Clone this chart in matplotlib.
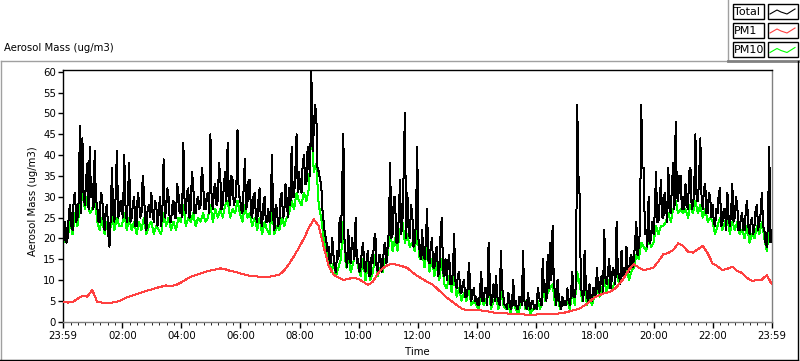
import matplotlib
matplotlib.use("Agg")
import matplotlib.pyplot as plt
from matplotlib.lines import Line2D
from matplotlib.patches import Rectangle
import numpy as np

# ---- data -----------------------------------------------------------------
# Total: 2.5-minute samples, 23:59 (previous day) .. 23:59, one row per hour
TOTAL = [
    17, 21, 24, 19, 20, 26, 28, 23, 22, 30, 31, 24, 25, 29, 47, 26, 44, 30, 28, 34, 38, 27, 42, 30,
    33, 27, 41, 29, 28, 24, 24, 31, 30, 25, 22, 27, 28, 21, 18, 25, 37, 26, 24, 30, 41, 25, 26, 29,
    27, 25, 40, 28, 24, 30, 38, 24, 25, 28, 30, 23, 23, 31, 29, 25, 26, 35, 31, 24, 22, 27, 28, 25,
    31, 26, 24, 29, 28, 23, 26, 30, 23, 27, 39, 25, 27, 32, 30, 24, 24, 28, 29, 25, 25, 33, 31, 26,
    28, 25, 43, 29, 26, 31, 32, 25, 27, 36, 33, 26, 26, 29, 30, 27, 28, 37, 34, 27, 27, 30, 31, 26,
    45, 29, 27, 32, 33, 28, 29, 38, 35, 27, 28, 33, 36, 29, 43, 30, 28, 35, 34, 28, 29, 31, 46, 30,
    30, 27, 26, 32, 39, 27, 28, 34, 34, 26, 25, 30, 31, 25, 24, 29, 32, 24, 23, 28, 30, 24, 24, 27,
    24, 27, 40, 25, 22, 28, 27, 23, 24, 30, 31, 25, 26, 33, 29, 25, 32, 28, 42, 30, 30, 36, 45, 31,
    36, 32, 31, 38, 40, 33, 33, 42, 38, 35, 60, 41, 46, 52, 50, 37, 36, 34, 33, 27, 24, 21, 20, 17,
    18, 14, 14, 20, 16, 13, 12, 17, 15, 25, 19, 32, 45, 18, 16, 13, 22, 15, 14, 20, 18, 15, 25, 14,
    15, 12, 13, 17, 19, 13, 12, 15, 17, 11, 11, 16, 14, 20, 21, 13, 12, 16, 16, 12, 13, 18, 19, 14,
    18, 22, 38, 20, 21, 30, 30, 19, 19, 25, 34, 21, 24, 36, 50, 20, 31, 22, 20, 28, 26, 18, 19, 24,
    42, 20, 17, 15, 22, 16, 15, 19, 27, 15, 14, 18, 20, 13, 13, 17, 18, 11, 12, 21, 25, 12, 11, 15,
    10, 14, 16, 9, 9, 12, 21, 10, 8, 11, 12, 7, 7, 9, 10, 6, 6, 8, 14, 9, 5, 7, 8, 5,
    6, 4, 4, 7, 12, 5, 5, 8, 8, 4, 19, 9, 4, 6, 9, 5, 11, 6, 5, 4, 17, 8, 6, 4,
    4, 3, 7, 5, 3, 4, 10, 4, 5, 3, 3, 6, 6, 4, 17, 5, 4, 3, 7, 4, 3, 5, 5, 3,
    4, 3, 8, 6, 5, 4, 15, 7, 9, 5, 16, 8, 19, 10, 23, 9, 7, 4, 10, 6, 4, 3, 6, 4,
    5, 4, 8, 5, 4, 7, 12, 6, 6, 9, 52, 35, 30, 8, 7, 5, 17, 9, 6, 5, 9, 6, 5, 8,
    8, 6, 13, 8, 7, 10, 11, 7, 22, 10, 9, 12, 15, 8, 10, 13, 12, 9, 24, 12, 11, 9, 17, 11,
    13, 11, 18, 12, 12, 15, 16, 13, 15, 19, 24, 16, 18, 22, 52, 37, 37, 21, 22, 18, 30, 19, 20, 24,
    21, 26, 36, 24, 24, 29, 34, 25, 25, 31, 28, 24, 37, 27, 26, 33, 38, 27, 48, 30, 29, 35, 35, 27,
    30, 27, 33, 28, 27, 36, 37, 27, 28, 31, 45, 29, 29, 34, 44, 30, 27, 32, 33, 26, 26, 31, 30, 25,
    28, 24, 23, 27, 26, 31, 32, 23, 24, 27, 27, 22, 31, 25, 23, 26, 33, 24, 25, 30, 28, 22, 22, 25,
    26, 22, 22, 27, 29, 23, 21, 24, 25, 21, 23, 27, 28, 22, 24, 26, 31, 23, 22, 19, 18, 24, 42, 19,
    22,
]
# PM10: 5-minute samples, 23:59 .. 23:59
PM10 = [
    18, 21, 20, 24, 21, 26, 23, 28, 31, 27, 30, 26,
    27, 30, 24, 22, 25, 21, 24, 20, 26, 22, 25, 23,
    23, 26, 22, 25, 22, 24, 21, 24, 22, 25, 21, 23,
    24, 21, 23, 22, 21, 26, 23, 25, 22, 24, 22, 25,
    24, 28, 23, 25, 24, 26, 23, 25, 24, 26, 24, 25,
    28, 24, 27, 25, 27, 25, 28, 29, 25, 27, 26, 29,
    26, 24, 28, 25, 26, 23, 25, 22, 25, 21, 24, 22,
    21, 27, 21, 23, 22, 25, 23, 25, 26, 29, 27, 31,
    29, 28, 31, 29, 32, 46, 36, 38, 28, 25, 20, 17,
    15, 12, 14, 11, 13, 15, 24, 13, 16, 12, 14, 18,
    13, 11, 15, 10, 14, 10, 12, 16, 11, 13, 12, 15,
    16, 22, 17, 20, 17, 22, 24, 19, 21, 18, 19, 17,
    22, 15, 17, 13, 18, 12, 15, 11, 14, 10, 15, 9,
    8, 11, 7, 12, 6, 8, 5, 7, 5, 8, 4, 5,
    4, 3, 7, 4, 5, 8, 3, 5, 6, 3, 8, 4,
    3, 4, 2, 6, 3, 2, 4, 8, 3, 4, 2, 3,
    3, 5, 3, 8, 5, 7, 8, 9, 4, 6, 3, 4,
    4, 5, 3, 7, 4, 12, 9, 5, 8, 4, 6, 4,
    6, 8, 6, 8, 10, 7, 10, 8, 9, 12, 9, 11,
    11, 13, 10, 12, 13, 16, 15, 19, 18, 17, 20, 18,
    19, 23, 21, 23, 23, 24, 26, 24, 27, 29, 26, 27,
    26, 27, 25, 28, 26, 29, 26, 28, 25, 27, 24, 25,
    24, 21, 23, 25, 22, 24, 25, 21, 24, 22, 24, 21,
    22, 20, 23, 19, 21, 20, 23, 21, 24, 20, 17, 22,
    20,
]
# PM1: 10-minute samples, 23:59 .. 23:59
PM1 = [
    4.8, 4.6, 4.7, 5.5, 6.2, 6.0, 7.6, 4.8, 4.6, 4.5, 4.6, 4.8,
    5.2, 5.8, 6.2, 6.6, 7.0, 7.4, 7.7, 8.1, 8.4, 8.7, 8.6, 8.8,
    9.4, 10.1, 10.8, 11.2, 11.6, 12.0, 12.3, 12.5, 12.8, 12.6, 12.2, 12.0,
    11.6, 11.3, 11.0, 10.9, 10.8, 10.7, 10.8, 11.0, 11.3, 12.3, 13.9, 15.8,
    17.8, 20.0, 22.5, 24.6, 23.0, 18.0, 13.5, 11.3, 10.6, 10.0, 10.3, 10.5,
    10.3, 9.6, 8.8, 9.6, 11.6, 12.8, 13.6, 13.9, 13.6, 13.3, 12.9, 11.9,
    11.0, 10.3, 9.6, 9.0, 8.0, 6.9, 5.8, 4.9, 4.0, 3.2, 2.8, 2.7,
    2.7, 2.7, 2.6, 2.3, 2.1, 2.1, 2.0, 1.9, 1.9, 1.8, 1.7, 1.7,
    1.7, 1.8, 1.8, 1.8, 1.9, 2.0, 2.2, 2.5, 2.8, 3.2, 3.9, 4.8,
    5.8, 6.4, 6.8, 7.1, 7.8, 9.0, 10.5, 12.5, 13.8, 13.0, 12.4, 12.6,
    13.0, 14.5, 16.2, 16.5, 17.2, 18.8, 18.2, 16.8, 16.6, 17.4, 18.2, 16.4,
    14.0, 13.3, 12.4, 12.7, 13.2, 12.2, 11.7, 10.5, 9.8, 10.0, 10.1, 11.2,
    9.0,
]
TICK_HOURS = [-1 / 60, 2, 4, 6, 8, 10, 12, 14, 16, 18, 20, 22, 23 + 59 / 60]
TICK_LABELS = ["23:59", "02:00", "04:00", "06:00", "08:00", "10:00", "12:00",
               "14:00", "16:00", "18:00", "20:00", "22:00", "23:59"]
SERIES = ["Total", "PM1", "PM10"]
COLORS = {"Total": "#000000", "PM1": "#ff4040", "PM10": "#00ff00"}

t_tot = -1 / 60 + np.arange(len(TOTAL)) * 2.5 / 60
t_pm10 = -1 / 60 + np.arange(len(PM10)) * 5 / 60
t_pm1 = -1 / 60 + np.arange(len(PM1)) * 10 / 60

W, H = 800, 361
plt.rcParams["font.family"] = ["DejaVu Sans"]
fig = plt.figure(figsize=(W / 100, H / 100), dpi=100)


def fx(x): return x / W
def fy(y): return 1 - y / H


ax = fig.add_axes([fx(62.7), fy(321.7), fx(771.7) - fx(62.7), fy(70.5) - fy(321.7)])
# pixel-crisp 1px lines like the LabVIEW original
LW = 0.72
ax.plot(t_pm10, PM10, color=COLORS["PM10"], lw=LW, zorder=2, antialiased=False)
ax.plot(t_tot, TOTAL, color=COLORS["Total"], lw=LW, zorder=3, antialiased=False)
ax.plot(t_pm1, PM1, color=COLORS["PM1"], lw=LW, zorder=4, antialiased=False)

ax.set_xlim(TICK_HOURS[0], TICK_HOURS[-1])
ax.set_ylim(0, 60.3)
ax.set_yticks(range(0, 61, 5))
ax.set_xticks(TICK_HOURS)
ax.set_xticklabels(TICK_LABELS)
ax.set_xticks(np.arange(0, 24, 0.25), minor=True)
ax.tick_params(axis="both", labelsize=7.3, color="black", width=1)
ax.tick_params(axis="x", which="major", length=4, pad=3)
ax.tick_params(axis="x", which="minor", length=2.5)
ax.tick_params(axis="y", length=3.3, pad=1.5)
ax.spines["left"].set_color("black")
ax.spines["top"].set_color("black")
ax.spines["right"].set_color("#808080")
ax.spines["bottom"].set_color("#808080")
for s in ax.spines.values():
    s.set_linewidth(1.0)

# labels
fig.text(fx(33), fy(201), "Aerosol Mass (ug/m3)", rotation=90, ha="center",
         va="center", fontsize=7.3)
fig.text(fx(417), fy(352), "Time", ha="center", va="center", fontsize=7.3)
fig.text(fx(4), fy(48), "Aerosol Mass (ug/m3)", ha="left", va="center",
         fontsize=7.3)


# LabVIEW-ish panel frame
def seg(x0, y0, x1, y1, c, lw=1.0):
    fig.add_artist(Line2D([fx(x0), fx(x1)], [fy(y0), fy(y1)], color=c,
                          lw=lw, transform=fig.transFigure))


seg(0.5, 61, 728, 61, "#a0a0a0")
seg(0.5, 61, 0.5, 360, "#a0a0a0")
seg(728, 0, 728, 61, "#a0a0a0")
seg(728, 60.5, 800, 60.5, "#808080", 2)
seg(0, 359.5, 797.5, 359.5, "black")
seg(797.5, 61, 797.5, 360, "black")

# legend
rows = [(4, 18.5), (23, 38), (42.5, 57)]
for name, (y0, y1) in zip(SERIES, rows):
    fig.add_artist(Rectangle((fx(732.5), fy(y1)), fx(763.5) - fx(732.5),
                             fy(y0) - fy(y1), fill=False, ec="black", lw=1,
                             transform=fig.transFigure))
    fig.add_artist(Rectangle((fx(768), fy(y1)), fx(797.5) - fx(768),
                             fy(y0) - fy(y1), fill=False, ec="black", lw=1,
                             transform=fig.transFigure))
    fig.text(fx(734), fy((y0 + y1) / 2 + 0.5), name, ha="left", va="center",
             fontsize=8)
    xs = [770, 777, 781, 787, 795]
    ys = [y0 + 10, y0 + 6, y0 + 8, y0 + 10, y0 + 5]
    fig.add_artist(Line2D([fx(v) for v in xs], [fy(v) for v in ys],
                          color=COLORS[name], lw=0.8, transform=fig.transFigure))

fig.savefig("out.png", dpi=100)
